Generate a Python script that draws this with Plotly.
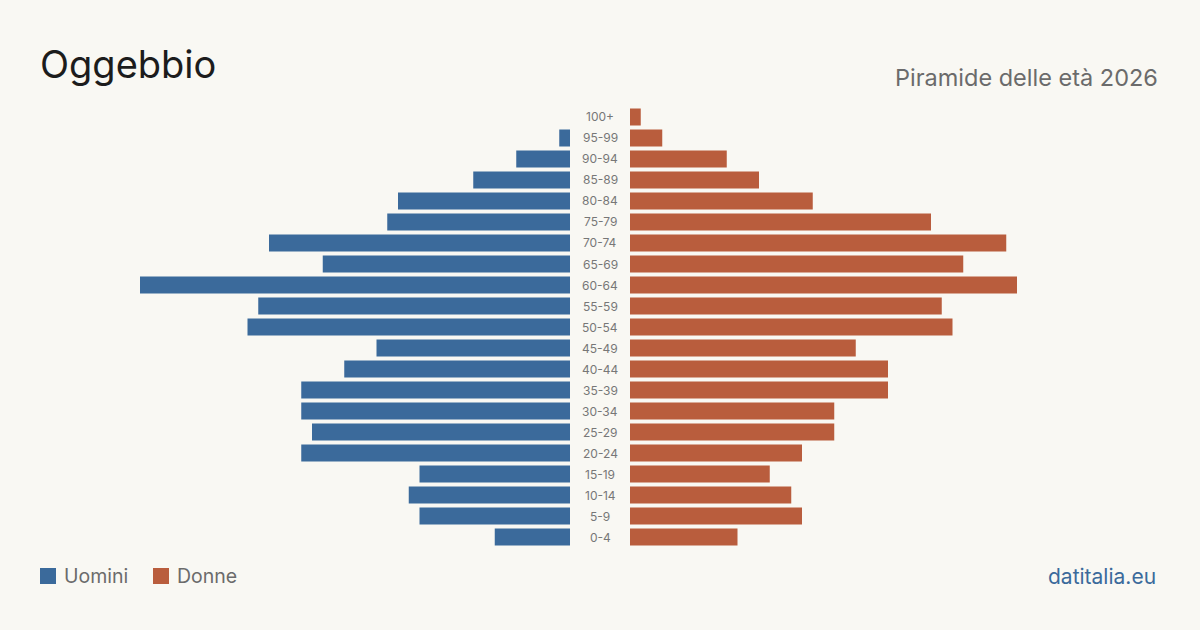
import plotly.graph_objects as go

age_groups = ["100+", "95-99", "90-94", "85-89", "80-84", "75-79", "70-74", "65-69",
              "60-64", "55-59", "50-54", "45-49", "40-44", "35-39", "30-34", "25-29",
              "20-24", "15-19", "10-14", "5-9", "0-4"]
men = [0, 1, 5, 9, 16, 17, 28, 23, 40, 29, 30, 18, 21, 25, 25, 24, 25, 14, 15, 14, 7]
women = [1, 3, 9, 12, 17, 28, 35, 31, 36, 29, 30, 21, 24, 24, 19, 19, 16, 13, 15, 16, 10]

title = "Oggebbio"
subtitle = "Piramide delle età 2026"
source = "datitalia.eu"
legend_labels = ["Uomini", "Donne"]

BLUE = "#3b6a9b"
RED = "#b95d3d"
BG = "#f9f8f3"
GRAY = "#6b6b6b"

W, H = 1200, 630
max_v = max(max(men), max(women))

fig = go.Figure()
fig.add_trace(go.Bar(x=men, y=age_groups, orientation="h", marker=dict(color=BLUE, line_width=0),
                     xaxis="x", yaxis="y", showlegend=False, hoverinfo="x+y"))
fig.add_trace(go.Bar(x=women, y=age_groups, orientation="h", marker=dict(color=RED, line_width=0),
                     xaxis="x2", yaxis="y2", showlegend=False, hoverinfo="x+y"))

ydom = [(H - 547.5) / H, (H - 106.5) / H]
yax = dict(categoryorder="array", categoryarray=age_groups[::-1], showticklabels=False,
           showgrid=False, zeroline=False, showline=False, domain=ydom, fixedrange=True)

for i, lab in enumerate(age_groups):
    fig.add_annotation(x=0.5, xref="paper", y=lab, yref="y", text=lab, showarrow=False,
                       font=dict(family="Inter", size=12, color="#777777"), xanchor="center", yanchor="middle")

fig.update_layout(
    width=W, height=H,
    paper_bgcolor=BG, plot_bgcolor=BG,
    margin=dict(l=0, r=0, t=0, b=0),
    bargap=0.19,
    xaxis=dict(domain=[140 / W, 570 / W], range=[max_v, 0], visible=False, fixedrange=True),
    xaxis2=dict(domain=[630 / W, 1060 / W], range=[0, max_v], visible=False, fixedrange=True),
    yaxis=dict(**yax, anchor="x"),
    yaxis2=dict(**yax, anchor="x2"),
    font=dict(family="Inter"),
)

fig.add_annotation(x=40 / W, y=1 - 67 / H, xref="paper", yref="paper", text=title, showarrow=False,
                   xanchor="left", yanchor="bottom", yshift=-22, xshift=-2,
                   font=dict(family="Inter", size=38, color="#1c1c1c"))
fig.add_annotation(x=1160 / W, y=1 - 77 / H, xref="paper", yref="paper", text=subtitle, showarrow=False,
                   xanchor="right", yanchor="middle",
                   font=dict(family="Inter", size=23.5, color=GRAY))
fig.add_annotation(x=1158 / W, y=1 - 576 / H, xref="paper", yref="paper", text=source, showarrow=False,
                   xanchor="right", yanchor="middle",
                   font=dict(family="Inter", size=21, color=BLUE))

for x0, col, lab in [(40, BLUE, legend_labels[0]), (153, RED, legend_labels[1])]:
    fig.add_shape(type="rect", xref="paper", yref="paper", x0=x0 / W, x1=(x0 + 16) / W,
                  y0=1 - 584 / H, y1=1 - 568 / H, fillcolor=col, line_width=0)
    fig.add_annotation(x=(x0 + 22) / W, y=1 - 576 / H, xref="paper", yref="paper", text=lab,
                       showarrow=False, xanchor="left", yanchor="middle",
                       font=dict(family="Inter", size=19.5, color=GRAY))

fig.write_html("out.html")
